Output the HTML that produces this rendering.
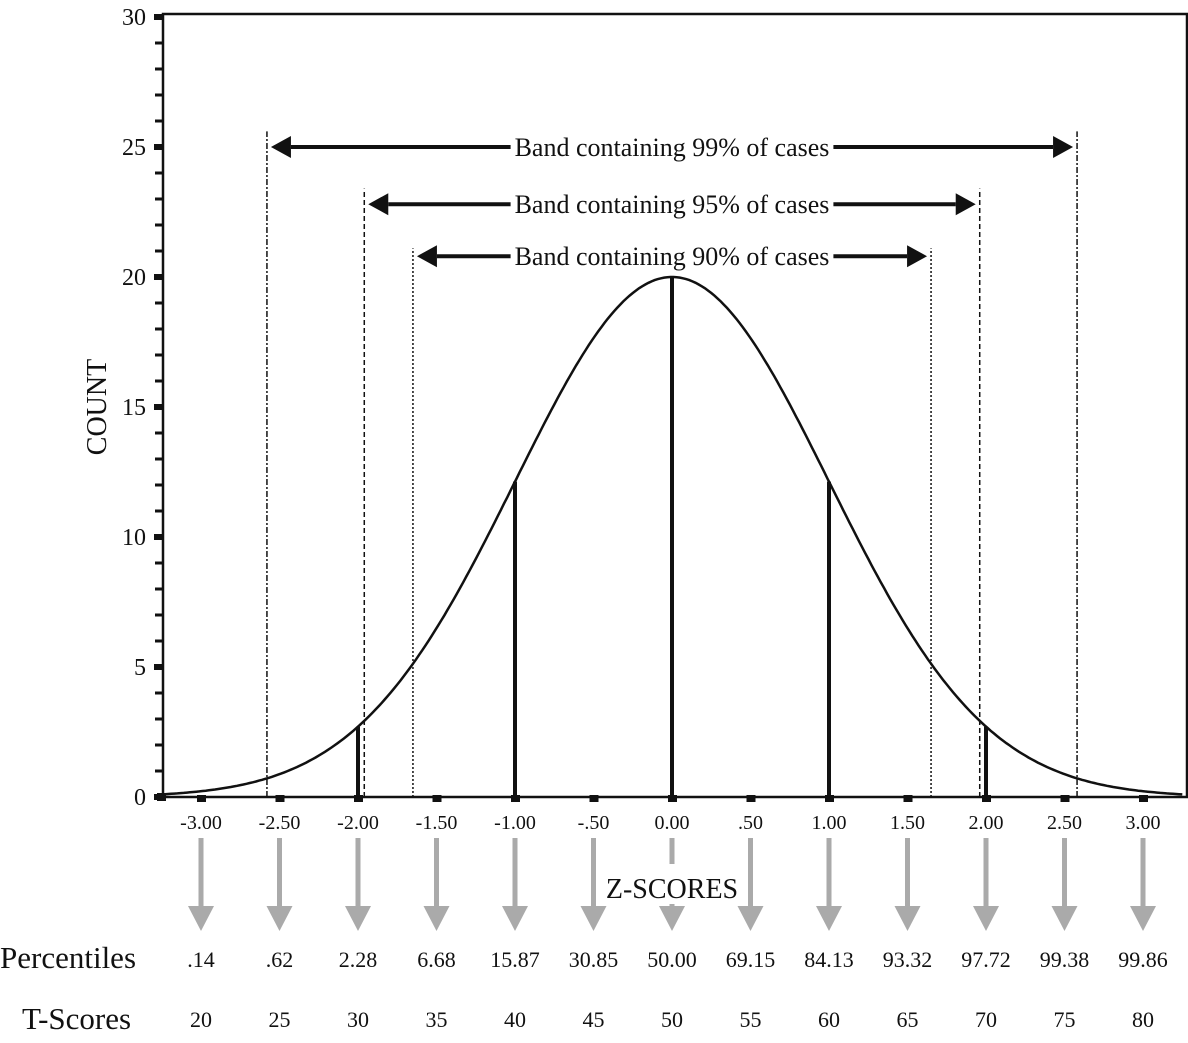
<!DOCTYPE html>
<html><head><meta charset="utf-8"><style>
body{margin:0;background:#fff}
svg text{font-family:"Liberation Serif",serif;fill:#111}
</style></head><body>
<svg id="c" width="1188" height="1038"></svg>
<script>
const zTicks=[-3,-2.5,-2,-1.5,-1,-0.5,0,0.5,1,1.5,2,2.5,3];
const zLabels=["-3.00","-2.50","-2.00","-1.50","-1.00","-.50","0.00",".50","1.00","1.50","2.00","2.50","3.00"];
const percentiles=[".14",".62","2.28","6.68","15.87","30.85","50.00","69.15","84.13","93.32","97.72","99.38","99.86"];
const tScores=["20","25","30","35","40","45","50","55","60","65","70","75","80"];
const yTicks=[0,5,10,15,20,25,30];
const peak=20;
const barZ=[-2,-1,0,1,2];
const bands=[{z:2.58,y:25,label:"Band containing 99% of cases",top:25.6,dash:"6,2,2,2"},{z:1.96,y:22.8,label:"Band containing 95% of cases",top:23.4,dash:"5,3"},{z:1.65,y:20.8,label:"Band containing 90% of cases",top:21.1,dash:"2,2"}];
const NS="http://www.w3.org/2000/svg",svg=document.getElementById('c');
const X=z=>672+z*157, Y=v=>797-v*26;
function el(t,a,p){const e=document.createElementNS(NS,t);for(const k in a)e.setAttribute(k,a[k]);(p||svg).appendChild(e);return e;}
let e;
e=el('rect',{x:163,y:14,width:1024,height:783,fill:'none',stroke:'#111','stroke-width':2.5});

for(let v=0;v<=30;v++){const maj=v%5==0;
 e=el('rect',{x:maj?154:155,y:Y(v)-(maj?3:1.5),width:maj?9:7,height:maj?6:3,fill:'#111'});
 }
yTicks.forEach(v=>{e=el('text',{x:146,y:Y(v)+8,'font-size':24,'text-anchor':'end'});e.textContent=v;
 });
e=el('text',{x:106,y:407,'font-size':28,'text-anchor':'middle',transform:'rotate(-90 106 407)'});e.textContent='COUNT';

e=el('rect',{x:157,y:793,width:9,height:8,fill:'#111'});
zTicks.forEach((z,i)=>{
 e=el('rect',{x:X(z)-4,y:795,width:9,height:7,fill:'#111'});
 e=el('text',{x:X(z),y:829,'font-size':20,'text-anchor':'middle'});e.textContent=zLabels[i];
 
 e=el('line',{x1:X(z),y1:838,x2:X(z),y2:908,stroke:'#aaa','stroke-width':5});
 e=el('polygon',{points:`${X(z)-13},906 ${X(z)+13},906 ${X(z)},931`,fill:'#aaa'});
 e=el('text',{x:X(z),y:967,'font-size':22,'text-anchor':'middle'});e.textContent=percentiles[i];
 
 e=el('text',{x:X(z),y:1027,'font-size':22,'text-anchor':'middle'});e.textContent=tScores[i];
 
});
const zbg=el('rect',{x:606,y:864,width:132,height:40,fill:'#fff'});
e=el('text',{x:672,y:898,'font-size':28,'text-anchor':'middle'});e.textContent='Z-SCORES';
{const w=e.getComputedTextLength();zbg.setAttribute('x',672-w/2-2);zbg.setAttribute('width',w+4);}
e=el('text',{x:0,y:968,'font-size':31});e.textContent='Percentiles';
e=el('text',{x:22,y:1029,'font-size':31});e.textContent='T-Scores';
let d='';for(let z=-3.25;z<=3.25001;z+=0.02){d+=(d?'L':'M')+X(z).toFixed(1)+','+Y(peak*Math.exp(-z*z/2)).toFixed(1);}
e=el('path',{d:d,fill:'none',stroke:'#111','stroke-width':2.5});
barZ.forEach(z=>{e=el('line',{x1:X(z),y1:797,x2:X(z),y2:Y(peak*Math.exp(-z*z/2)),stroke:'#111','stroke-width':4});
 });
bands.forEach(b=>{
 [-1,1].forEach(s=>{e=el('line',{x1:X(s*b.z),y1:797,x2:X(s*b.z),y2:Y(b.top),stroke:'#111','stroke-width':1.5,'stroke-dasharray':b.dash});
  });
 const y=Y(b.y),l=X(-b.z)+4,r=X(b.z)-4;
 e=el('line',{x1:l+20,y1:y,x2:r-20,y2:y,stroke:'#111','stroke-width':4});
 e=el('polygon',{points:`${l},${y} ${l+20},${y-11} ${l+20},${y+11}`,fill:'#111'});
 e=el('polygon',{points:`${r},${y} ${r-20},${y-11} ${r-20},${y+11}`,fill:'#111'});
 const bg=el('rect',{x:505,y:y-14,width:330,height:28,fill:'#fff'});
 e=el('text',{x:672,y:y+9,'font-size':26,'text-anchor':'middle'});e.textContent=b.label;
 const w=e.getComputedTextLength();bg.setAttribute('x',672-w/2-4);bg.setAttribute('width',w+8);
});
</script>
</body></html>
